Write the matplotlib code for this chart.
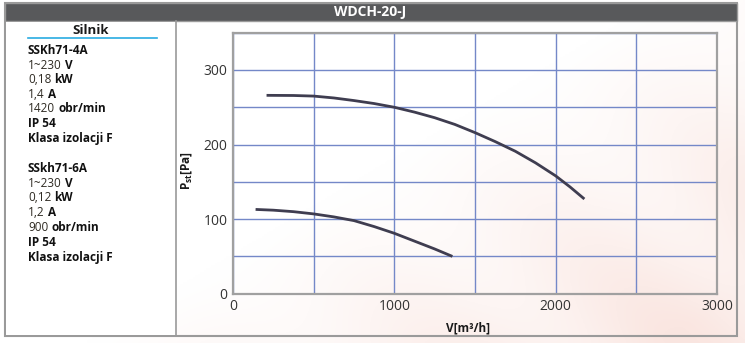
import numpy as np
import matplotlib.pyplot as plt
from matplotlib.patches import Rectangle
from matplotlib.lines import Line2D

# Dane
title = "WDCH-20-J"
v_4a = [208, 375, 500, 625, 750, 875, 1000, 1125, 1250, 1375, 1500, 1625, 1750, 1875, 2000, 2090, 2178]
p_4a = [266, 265.8, 265, 262.5, 259, 255, 250, 243.5, 236, 227, 216, 204, 191, 175.5, 158, 143, 127]
v_6a = [140, 250, 375, 500, 625, 750, 875, 1000, 1125, 1250, 1360]
p_6a = [113, 112, 110, 107, 103, 98, 90, 81, 70.5, 60, 50]
x_ticks = [0, 1000, 2000, 3000]
y_ticks = [0, 100, 200, 300]

# Opis silnikow: (tekst zwykly, tekst pogrubiony)
motor_4a = [("", "SSKh71-4A"), ("1~230 ", "V"), ("0,18 ", "kW"), ("1,4 ", "A"),
            ("1420 ", "obr/min"), ("", "IP 54"), ("", "Klasa izolacji F")]
motor_6a = [("", "SSkh71-6A"), ("1~230 ", "V"), ("0,12 ", "kW"), ("1,2 ", "A"),
            ("900 ", "obr/min"), ("", "IP 54"), ("", "Klasa izolacji F")]

W, H = 745, 343
plt.rcParams['font.family'] = ['Open Sans', 'DejaVu Sans']
plt.rcParams['mathtext.fontset'] = 'custom'
plt.rcParams['mathtext.rm'] = 'Open Sans'
plt.rcParams['mathtext.bf'] = 'Open Sans:bold'


def fx(px):
    return px / W


def fy(py):
    return 1 - py / H


fig = plt.figure(figsize=(W / 100, H / 100), dpi=100)
renderer = fig.canvas.get_renderer()

# tlo z delikatnym gradientem
bg = fig.add_axes([0, 0, 1, 1], zorder=-10)
yy, xx = np.mgrid[0:1:200j, 0:1:400j]
d = np.clip((xx * 1.3 + yy * 1.0 - 1.15) / 1.0, 0, 1)
stripes = 0.5 + 0.5 * np.sin((xx * 6 - yy * 3) * np.pi)
t = d * (0.6 + 0.4 * stripes)
img = np.ones((200, 400, 3))
img[..., 1] -= 0.10 * t
img[..., 2] -= 0.12 * t
img[..., 0] -= 0.02 * t
bg.imshow(img, aspect='auto', extent=[0, 1, 0, 1])
bg.axis('off')

# ramka i naglowek
fig.patches.append(Rectangle((fx(5), fy(336)), fx(732), 333 / H, transform=fig.transFigure,
                             facecolor='none', edgecolor='#9a9a9a', lw=1.5))
fig.patches.append(Rectangle((fx(5), fy(21)), fx(732), 18 / H, transform=fig.transFigure,
                             facecolor='#58595b', edgecolor='#9a9a9a', lw=1.0))
fig.patches.append(Rectangle((fx(6), fy(335)), fx(170), 313 / H, transform=fig.transFigure,
                             facecolor='white', edgecolor='none'))
fig.lines.append(Line2D([fx(176), fx(176)], [fy(21), fy(336)], transform=fig.transFigure,
                        color='#9a9a9a', lw=1.2))
fig.text(fx(370), fy(12), title, color='white', fontsize=10, fontweight='bold',
         ha='center', va='center')

# panel silnika
fig.text(fx(91), fy(30), "Silnik", fontsize=9.5, fontweight='bold', ha='center', va='center',
         color='#1a1a1a')
fig.lines.append(Line2D([fx(28), fx(157)], [fy(38.3), fy(38.3)], transform=fig.transFigure,
                        color='#29abe2', lw=1.2))


def draw_block(lines, y0, step):
    for i, (reg, bold) in enumerate(lines):
        y = fy(y0 + i * step)
        x = fx(28)
        if reg:
            t = fig.text(x, y, reg.strip(), fontsize=8.5, color='#2e2a22', ha='left', va='center')
            w = t.get_window_extent(renderer).width
            x += (w + 3) / W
        fig.text(x, y, bold, fontsize=8.5, fontweight='bold', color='#111111', ha='left',
                 va='center')


draw_block(motor_4a, 50.5, 14.6)
draw_block(motor_6a, 168.3, 14.8)

ax = fig.add_axes([fx(233), fy(293.7), fx(717 - 233), (293.7 - 32.7) / H])
ax.set_facecolor('none')

ax.plot(v_4a, p_4a, color='#3f3d50', lw=2.0, solid_capstyle='butt', zorder=3)
ax.plot(v_6a, p_6a, color='#3f3d50', lw=2.0, solid_capstyle='butt', zorder=3)

ax.set_xlim(0, 3000)
ax.set_ylim(0, 350)
ax.set_xticks(x_ticks)
ax.set_yticks(y_ticks)
ax.set_xticks(np.arange(0, 3001, 500), minor=True)
ax.set_yticks(np.arange(0, 351, 50), minor=True)
ax.grid(True, which='both', color='#7488c8', lw=1.0)
ax.tick_params(which='both', length=0, labelsize=10, labelcolor='#333333')
ax.tick_params(axis='x', pad=4)
ax.tick_params(axis='y', pad=4)
for s in ax.spines.values():
    s.set_color('#a0a0a0')
    s.set_linewidth(1.6)

fig.text(fx(186), fy(171), r'$\mathbf{P_{st}}$[Pa]', rotation=90, fontsize=8.5,
         fontweight='bold', ha='center', va='center', color='#1a1a1a')
fig.text(fx(468), fy(328), "V[m³/h]", fontsize=8.5, fontweight='bold', ha='center',
         va='center', color='#1a1a1a')

fig.savefig('out.png', dpi=100)
